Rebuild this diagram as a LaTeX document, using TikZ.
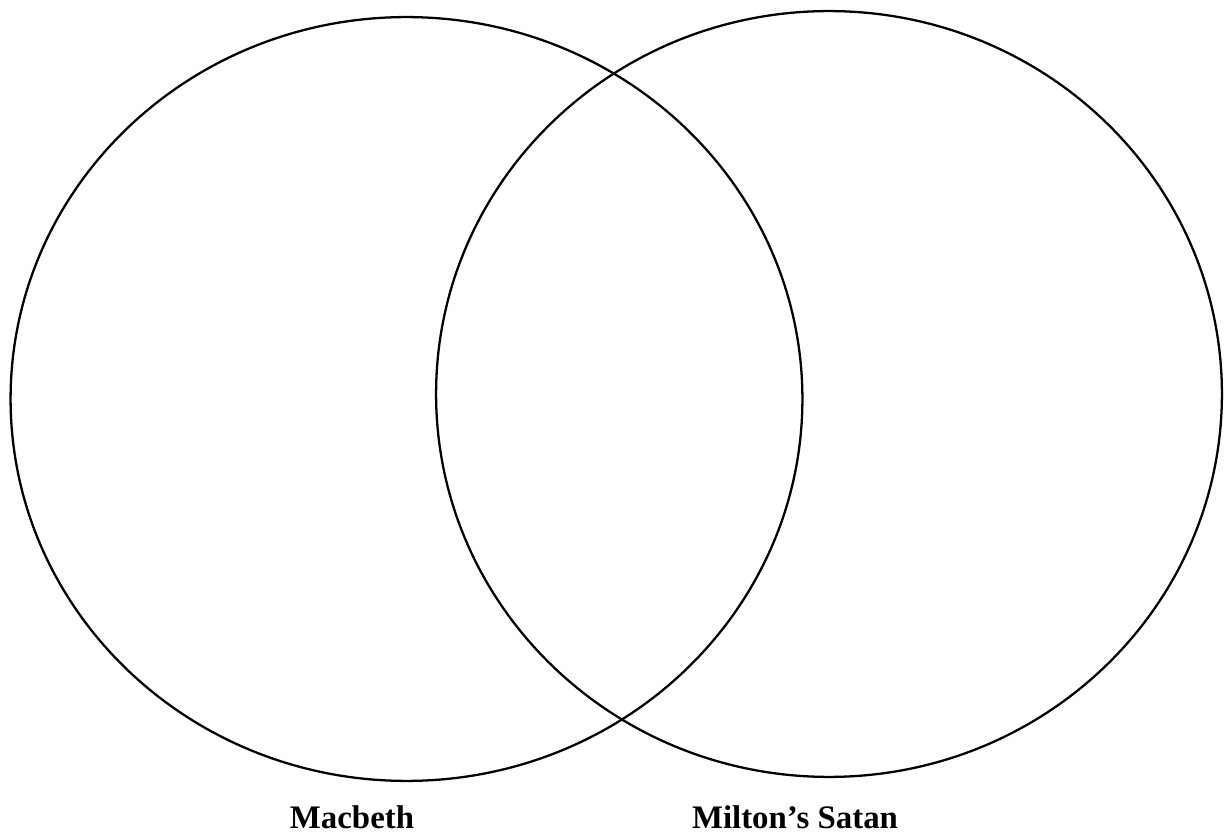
\documentclass[tikz,border=0pt]{standalone}
\usepackage{fontspec}
\setmainfont{Liberation Serif}
\usetikzlibrary{shapes.geometric, positioning}

\begin{document}
\begin{tikzpicture}[x=0.02cm, y=-0.02cm,
        ring/.style = {ellipse, draw=black, line width=1.3pt, inner sep=0pt},
        caption/.style = {font=\fontsize{18.7}{22}\selectfont\bfseries, anchor=base, inner sep=0pt}
    ]
    \useasboundingbox (0,0) rectangle (1225,834);

    % the two sets
    \node [ring, minimum width=15.84cm, minimum height=15.28cm] (macbeth) at (406.5,399) {};
    \node [ring, minimum width=15.72cm, minimum height=15.32cm] (satan) at (829,394) {};

    % labels below
    \node [caption] (macbethlabel) at (352,828) {Macbeth};
    \node [caption] (satanlabel) at (795,828) {Milton’s Satan};
\end{tikzpicture}
\end{document}
